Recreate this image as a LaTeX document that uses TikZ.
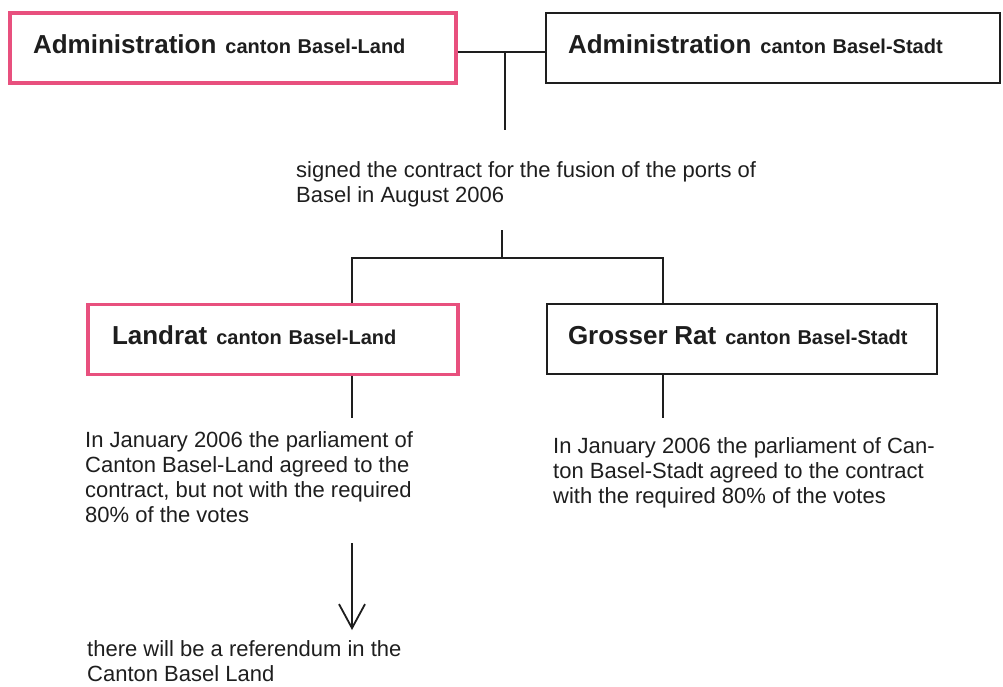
\documentclass[tikz,border=0pt]{standalone}
\usepackage{fontspec}
\setmainfont{Liberation Sans}
\usetikzlibrary{arrows.meta}
\definecolor{pbink}{HTML}{1E1E1E}
\definecolor{pbpink}{HTML}{E8507E}
\newcommand{\pbbig}{\fontsize{26}{30}\selectfont\bfseries}
\newcommand{\pbsmall}{\fontsize{20}{24}\selectfont\bfseries}
\tikzset{
  pb box/.style={draw=pbink, line width=1.8pt, fill=white, text=pbink,
    inner ysep=0pt, minimum height=70pt, text depth=8pt, align=left, font=\pbsmall},
  pb land/.style={pb box, draw=pbpink, line width=3.2pt},
  pb note/.style={font=\fontsize{22}{25}\selectfont, text=pbink, align=left,
    inner sep=0pt, anchor=base west},
  pb line/.style={draw=pbink, line width=1.8pt},
  pb arrow/.style={pb line, -{Straight Barb[length=24pt,width=26pt]}}
}

\begin{document}
\begin{tikzpicture}[x=1pt, y=-1pt]
  \useasboundingbox (0,0) rectangle (1003,686);
  % administrations
  \node[pb land, inner xsep=23pt, text width=400pt] (adminBL) at (233,48)
    {{\pbbig Administration}\hspace{9pt}canton Basel-Land};
  \node[pb box, inner xsep=22pt, text width=410pt] (adminBS) at (773,48)
    {{\pbbig Administration}\hspace{9pt}canton Basel-Stadt};
  \coordinate (j1) at (505,52);
  \draw[pb line] (adminBL.east |- j1) -- (adminBS.west |- j1);
  \draw[pb line] (j1) -- ++(0,78);
  % base anchor = baseline of the last line
  \node[pb note] (signed) at (296,202)
    {signed the contract for the fusion of the ports of\\Basel in August 2006};
  % parliaments
  \node[pb land, inner xsep=24pt, text width=322pt] (landrat) at (273,339.5)
    {{\pbbig Landrat}\hspace{9pt}canton Basel-Land};
  \node[pb box, inner xsep=21pt, text width=348pt] (grosser) at (742,339)
    {{\pbbig Grosser Rat}\hspace{9pt}canton Basel-Stadt};
  \coordinate (j2) at (502,258);
  \coordinate (bl) at (352,258);
  \coordinate (br) at (663,258);
  \draw[pb line] (j2) -- ++(0,-28);
  \draw[pb line] (landrat.north -| bl) -- (bl) -- (br) -- (grosser.north -| br);
  \draw[pb line] (landrat.south -| bl) -- ++(0,42);
  \draw[pb line] (grosser.south -| br) -- ++(0,43);
  \node[pb note] (blNote) at (85,522)
    {In January 2006 the parliament of\\Canton Basel-Land agreed to the\\contract, but not with the required\\80\% of the votes};
  \node[pb note] (bsNote) at (553,503)
    {In January 2006 the parliament of Can-\\ton Basel-Stadt agreed to the contract\\with the required 80\% of the votes};
  % referendum
  \coordinate (a1) at (352,543);
  \coordinate (a2) at (352,630);
  \draw[pb arrow] (a1) -- (a2);
  \node[pb note] (refNote) at (87,681)
    {there will be a referendum in the\\Canton Basel Land};
\end{tikzpicture}
\end{document}
